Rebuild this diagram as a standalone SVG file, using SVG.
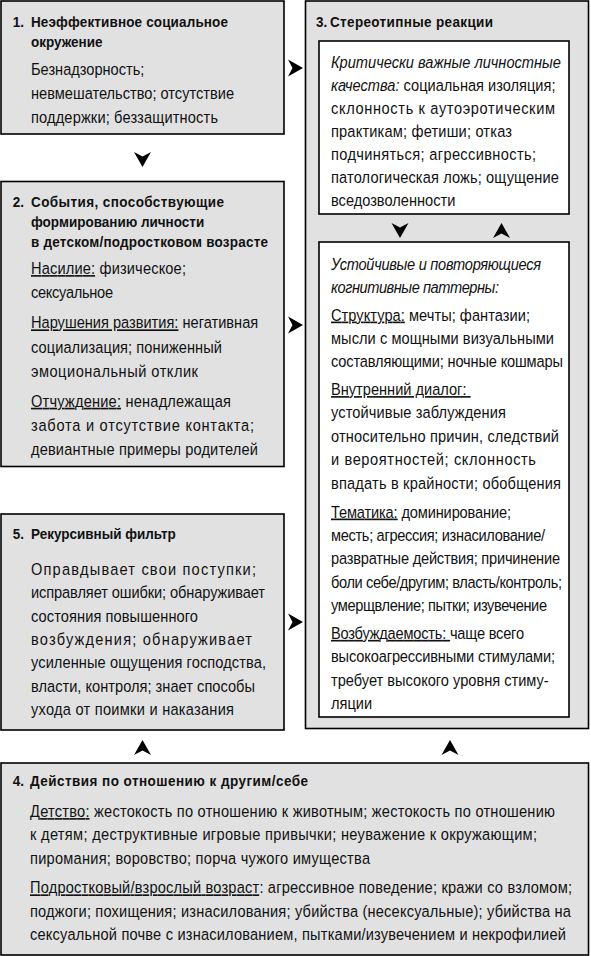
<svg xmlns="http://www.w3.org/2000/svg" width="591" height="956" viewBox="0 0 591 956">
<style>
.box{fill:#e1e1e1;stroke:#000;stroke-width:1.6}
.inner{fill:#fff;stroke:#000;stroke-width:1.6}
text{fill:#111;font-family:"Liberation Sans",Arial,sans-serif}
.h{font-size:15px;font-weight:bold}
.b{font-size:16.5px}
.i{font-style:italic}
.u{text-decoration:underline}
.arr{fill:#000}
</style>
<defs>
<path id="ar" d="M7.5,0 L-7.5,-8.5 L-3,0 L-7.5,8.5 Z"/>
</defs>
<rect width="591" height="956" fill="#fff"/>

<g id="node1">
<rect class="box" x="1" y="1" width="283" height="133"/>
<text class="h" transform="translate(12.7,26.7) scale(0.9,1)">1.</text>
<text class="h" transform="translate(31,26.7) scale(0.9,1)" textLength="218.9" lengthAdjust="spacing">Неэффективное социальное</text>
<text class="h" transform="translate(31,46.5) scale(0.9,1)">окружение</text>
<text class="b" transform="translate(31,75.3) scale(0.885,1)">Безнадзорность;</text>
<text class="b" transform="translate(31,99.3) scale(0.885,1)">невмешательство; отсутствие</text>
<text class="b" transform="translate(31,123.3) scale(0.885,1)" textLength="211.3" lengthAdjust="spacing">поддержки; беззащитность</text>
</g>

<g id="node2">
<rect class="box" x="1" y="181.5" width="283" height="285"/>
<text class="h" transform="translate(12.7,206.7) scale(0.9,1)">2.</text>
<text class="h" transform="translate(31,206.7) scale(0.9,1)" textLength="214.4" lengthAdjust="spacing">События, способствующие</text>
<text class="h" transform="translate(31,226.7) scale(0.9,1)">формированию личности</text>
<text class="h" transform="translate(31,246.7) scale(0.9,1)" textLength="263.3" lengthAdjust="spacing">в детском/подростковом возрасте</text>
<text class="b" transform="translate(31,274) scale(0.885,1)" textLength="175.1" lengthAdjust="spacing"><tspan class="u">Насилие:</tspan> физическое;</text>
<text class="b" transform="translate(31,298) scale(0.885,1)" textLength="92.7" lengthAdjust="spacing">сексуальное</text>
<text class="b" transform="translate(31,328.3) scale(0.885,1)"><tspan class="u">Нарушения развития:</tspan> негативная</text>
<text class="b" transform="translate(31,352.5) scale(0.885,1)" textLength="215.8" lengthAdjust="spacing">социализация; пониженный</text>
<text class="b" transform="translate(31,376.7) scale(0.885,1)" textLength="188.7" lengthAdjust="spacing">эмоциональный отклик</text>
<text class="b" transform="translate(31,406.7) scale(0.885,1)" textLength="226" lengthAdjust="spacing"><tspan class="u">Отчуждение:</tspan> ненадлежащая</text>
<text class="b" transform="translate(31,430.7) scale(0.885,1)" textLength="252" lengthAdjust="spacing">забота и отсутствие контакта;</text>
<text class="b" transform="translate(31,455) scale(0.885,1)" textLength="256.5" lengthAdjust="spacing">девиантные примеры родителей</text>
</g>

<g id="node3">
<rect class="box" x="305.5" y="1" width="283" height="727.5"/>
<text class="h" transform="translate(316,26.7) scale(0.9,1)">3.</text>
<text class="h" transform="translate(330,26.7) scale(0.9,1)" textLength="181.1" lengthAdjust="spacing">Стереотипные реакции</text>
<g id="node3a">
<rect class="inner" x="319" y="41" width="250" height="173"/>
<text class="b i" transform="translate(331,68) scale(0.885,1)">Критически важные личностные</text>
<text class="b" transform="translate(331,91) scale(0.885,1)"><tspan class="i">качества:</tspan> социальная изоляция;</text>
<text class="b" transform="translate(331,114) scale(0.885,1)" textLength="253.1" lengthAdjust="spacing">склонность к аутоэротическим</text>
<text class="b" transform="translate(331,137) scale(0.885,1)" textLength="204.5" lengthAdjust="spacing">практикам; фетиши; отказ</text>
<text class="b" transform="translate(331,160) scale(0.885,1)" textLength="231.6" lengthAdjust="spacing">подчиняться; агрессивность;</text>
<text class="b" transform="translate(331,183) scale(0.885,1)" textLength="257.6" lengthAdjust="spacing">патологическая ложь; ощущение</text>
<text class="b" transform="translate(331,205.5) scale(0.885,1)">вседозволенности</text>
</g>
<g id="node3b">
<rect class="inner" x="319" y="242" width="250" height="475"/>
<text class="b i" transform="translate(331,270) scale(0.885,1)" textLength="237.3" lengthAdjust="spacing">Устойчивые и повторяющиеся</text>
<text class="b i" transform="translate(331,293.4) scale(0.885,1)" textLength="189.8" lengthAdjust="spacing">когнитивные паттерны:</text>
<text class="b" transform="translate(331,320.5) scale(0.885,1)" textLength="224.9" lengthAdjust="spacing"><tspan class="u">Структура:</tspan> мечты; фантазии;</text>
<text class="b" transform="translate(331,344) scale(0.885,1)" textLength="252" lengthAdjust="spacing">мысли с мощными визуальными</text>
<text class="b" transform="translate(331,367.4) scale(0.885,1)" textLength="262.1" lengthAdjust="spacing">составляющими; ночные кошмары</text>
<text class="b" transform="translate(331,395) scale(0.885,1)"><tspan class="u">Внутренний диалог:&#160;</tspan></text>
<text class="b" transform="translate(331,418.4) scale(0.885,1)" textLength="197.7" lengthAdjust="spacing">устойчивые заблуждения</text>
<text class="b" transform="translate(331,441.8) scale(0.885,1)" textLength="257.6" lengthAdjust="spacing">относительно причин, следствий</text>
<text class="b" transform="translate(331,465.2) scale(0.885,1)" textLength="231.6" lengthAdjust="spacing">и вероятностей; склонность</text>
<text class="b" transform="translate(331,488.6) scale(0.885,1)" textLength="259.9" lengthAdjust="spacing">впадать в крайности; обобщения</text>
<text class="b" transform="translate(331,517.5) scale(0.885,1)" textLength="203.4" lengthAdjust="spacing"><tspan class="u">Тематика:</tspan> доминирование;</text>
<text class="b" transform="translate(331,541) scale(0.885,1)" textLength="241.8" lengthAdjust="spacing">месть; агрессия; изнасилование/</text>
<text class="b" transform="translate(331,564.4) scale(0.885,1)" textLength="258.8" lengthAdjust="spacing">развратные действия; причинение</text>
<text class="b" transform="translate(331,587.8) scale(0.885,1)" textLength="261" lengthAdjust="spacing">боли себе/другим; власть/контроль;</text>
<text class="b" transform="translate(331,611.2) scale(0.885,1)" textLength="244.1" lengthAdjust="spacing">умерщвление; пытки; изувечение</text>
<text class="b" transform="translate(331,638.8) scale(0.885,1)" textLength="218.1" lengthAdjust="spacing"><tspan class="u">Возбуждаемость:&#160;</tspan>чаще всего</text>
<text class="b" transform="translate(331,662.2) scale(0.885,1)" textLength="253.1" lengthAdjust="spacing">высокоагрессивными стимулами;</text>
<text class="b" transform="translate(331,685.6) scale(0.885,1)">требует высокого уровня стиму-</text>
<text class="b" transform="translate(331,709) scale(0.885,1)">ляции</text>
</g>
</g>

<g id="node5">
<rect class="box" x="1" y="514" width="283" height="216"/>
<text class="h" transform="translate(12.7,539.3) scale(0.9,1)">5.</text>
<text class="h" transform="translate(31,539.3) scale(0.9,1)">Рекурсивный фильтр</text>
<text class="b" transform="translate(31,575) scale(0.885,1)" textLength="254.2" lengthAdjust="spacing">Оправдывает свои поступки;</text>
<text class="b" transform="translate(31,598.3) scale(0.885,1)" textLength="264.4" lengthAdjust="spacing">исправляет ошибки; обнаруживает</text>
<text class="b" transform="translate(31,621.7) scale(0.885,1)" textLength="188.7" lengthAdjust="spacing">состояния повышенного</text>
<text class="b" transform="translate(31,645) scale(0.885,1)" textLength="249.7" lengthAdjust="spacing">возбуждения; обнаруживает</text>
<text class="b" transform="translate(31,668.3) scale(0.885,1)" textLength="265.5" lengthAdjust="spacing">усиленные ощущения господства,</text>
<text class="b" transform="translate(31,691.7) scale(0.885,1)" textLength="253.1" lengthAdjust="spacing">власти, контроля; знает способы</text>
<text class="b" transform="translate(31,715) scale(0.885,1)" textLength="229.4" lengthAdjust="spacing">ухода от поимки и наказания</text>
</g>

<g id="node4">
<rect class="box" x="1" y="763" width="587.5" height="192"/>
<text class="h" transform="translate(12.7,786) scale(0.9,1)">4.</text>
<text class="h" transform="translate(30,786) scale(0.9,1)" textLength="308.9" lengthAdjust="spacing">Действия по отношению к другим/себе</text>
<text class="b" transform="translate(30,817) scale(0.885,1)" textLength="593.2" lengthAdjust="spacing"><tspan class="u">Детство:</tspan> жестокость по отношению к животным; жестокость по отношению</text>
<text class="b" transform="translate(30,840.3) scale(0.885,1)" textLength="572.9" lengthAdjust="spacing">к детям; деструктивные игровые привычки; неуважение к окружающим;</text>
<text class="b" transform="translate(30,863.6) scale(0.885,1)" textLength="384.2" lengthAdjust="spacing">пиромания; воровство; порча чужого имущества</text>
<text class="b" transform="translate(30,893.3) scale(0.885,1)" textLength="612.4" lengthAdjust="spacing"><tspan class="u">Подростковый/взрослый возраст</tspan>: агрессивное поведение; кражи со взломом;</text>
<text class="b" transform="translate(30,916.7) scale(0.885,1)" textLength="611.3" lengthAdjust="spacing">поджоги; похищения; изнасилования; убийства (несексуальные); убийства на</text>
<text class="b" transform="translate(30,940) scale(0.885,1)" textLength="605.6" lengthAdjust="spacing">сексуальной почве с изнасилованием, пытками/изувечением и некрофилией</text>
</g>

<g id="connectors" class="arr">
<use href="#ar" transform="translate(295.5,68)"/>
<use href="#ar" transform="translate(295.5,325)"/>
<use href="#ar" transform="translate(295.5,622)"/>
<use href="#ar" transform="translate(142.5,159.5) rotate(90)"/>
<use href="#ar" transform="translate(142.5,747.5) rotate(-90)"/>
<use href="#ar" transform="translate(450,747.5) rotate(-90)"/>
<use href="#ar" transform="translate(400,230.5) rotate(90)"/>
<use href="#ar" transform="translate(501.5,230.5) rotate(-90)"/>
</g>
</svg>
